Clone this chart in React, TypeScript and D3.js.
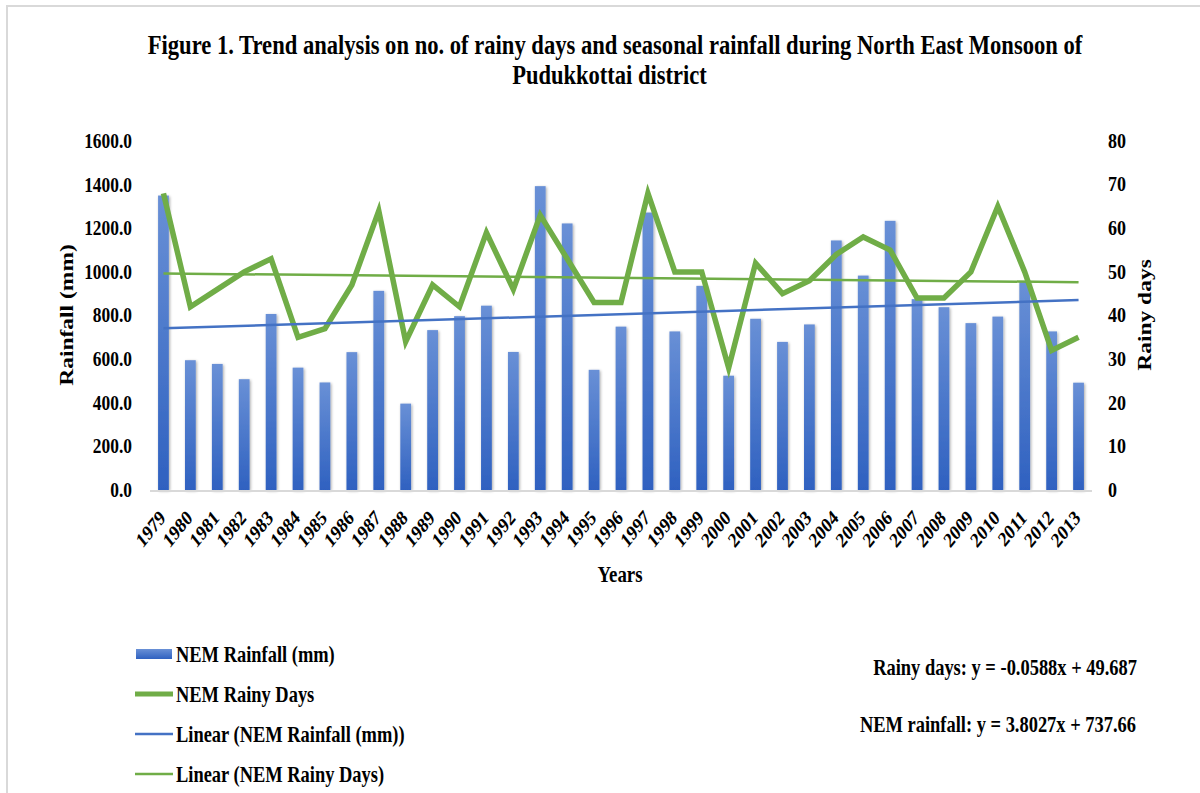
import React from 'react';
import * as d3 from 'd3';

const years = ['1979','1980','1981','1982','1983','1984','1985','1986','1987','1988','1989','1990','1991','1992','1993','1994','1995','1996','1997','1998','1999','2000','2001','2002','2003','2004','2005','2006','2007','2008','2009','2010','2011','2012','2013'];
const rainfall = [1350,595,578,508,807,561,493,632,913,396,733,797,845,633,1393,1222,551,749,1272,727,936,524,785,679,759,1144,983,1234,875,838,765,795,955,727,492];
const rainyDays = [68,42,46,50,53,35,37,47,64,34,47,42,59,46,63,53,43,43,68,50,50,28,52,45,48,54,58,55,44,44,50,65,50,32,35];
const leftTicks = [0,200,400,600,800,1000,1200,1400,1600];
const rightTicks = [0,10,20,30,40,50,60,70,80];
const rainfallTrendCoef = [3.8027, 737.66];
const rainyTrendCoef = [-0.0588, 49.687];
const legendLabels = ['NEM Rainfall (mm)','NEM Rainy Days','Linear (NEM Rainfall (mm))','Linear (NEM Rainy Days)'];
const titleLines = ['Figure 1. Trend analysis on no. of rainy days and seasonal rainfall during North East Monsoon of','Pudukkottai district'];
const equationLabels = ['Rainy days: y = -0.0588x + 49.687','NEM rainfall: y = 3.8027x + 737.66'];

const FONT = '"Liberation Serif", "Times New Roman", serif';
const BLUE = '#4472C4';
const GREEN = '#70AD47';

function T({ x, y, sx = 0.82, rotate = 0, size = 22, anchor = 'start', baseline, children }: any) {
  return (
    <text
      transform={`translate(${x},${y}) scale(${sx},1) rotate(${rotate})`}
      fontFamily={FONT}
      fontWeight="bold"
      fontSize={size}
      textAnchor={anchor}
      dominantBaseline={baseline}
      fill="#000"
    >
      {children}
    </text>
  );
}

export default function App() {
  const W = 1200, H = 793;
  const left = 150, right = 1092, top = 141, bottom = 490;

  const x = d3.scaleBand<string>().domain(years).range([left, right]).paddingInner(0.6).paddingOuter(0.3);
  const cx = (y: string) => (x(y) as number) + x.bandwidth() / 2;
  const yL = d3.scaleLinear().domain([0, 1600]).range([bottom, top]);
  const yR = d3.scaleLinear().domain([0, 80]).range([bottom, top]);

  const daysLine = d3.line<number>().x((_, i) => cx(years[i])).y((d) => yR(d));
  const ends = [0, years.length - 1];
  const rainTrend = d3.line<number>().x((i) => cx(years[i])).y((i) => yL(rainfallTrendCoef[0] * (i + 1) + rainfallTrendCoef[1]));
  const daysTrend = d3.line<number>().x((i) => cx(years[i])).y((i) => yR(rainyTrendCoef[0] * (i + 1) + rainyTrendCoef[1]));

  const legendY = [654, 694, 734, 774];

  return (
    <svg width={W} height={H} style={{ position: 'fixed', left: 0, top: 0, background: '#fff' }}>
      <defs>
        <linearGradient id="barGrad" x1="0" y1="0" x2="0" y2="1">
          <stop offset="0" stopColor="#6990d6" />
          <stop offset="1" stopColor="#2f61c0" />
        </linearGradient>
        <filter id="shadow" x="-50%" y="-10%" width="200%" height="120%">
          <feGaussianBlur in="SourceAlpha" stdDeviation="1.5" />
          <feOffset dx="1" dy="1" result="b" />
          <feComponentTransfer><feFuncA type="linear" slope="0.35" /></feComponentTransfer>
          <feMerge><feMergeNode /><feMergeNode in="SourceGraphic" /></feMerge>
        </filter>
      </defs>
      <rect x={7} y={6} width={1300} height={900} fill="none" stroke="#d9d9d9" strokeWidth={2} />

      <T x={615} y={54} sx={0.853} size={26.5} anchor="middle">{titleLines[0]}</T>
      <T x={609.5} y={84} sx={0.85} size={26.5} anchor="middle">{titleLines[1]}</T>

      {/* bars */}
      <g filter="url(#shadow)">
        {rainfall.map((v, i) => (
          <rect key={years[i]} x={x(years[i])} y={yL(v)} width={x.bandwidth()} height={bottom - yL(v)} fill="url(#barGrad)" />
        ))}
      </g>
      <line x1={left} x2={right} y1={bottom + 1} y2={bottom + 1} stroke="#d9d9d9" strokeWidth={2} />

      <path d={daysLine(rainyDays) || ''} fill="none" stroke={GREEN} strokeWidth={5.5} strokeLinejoin="miter" strokeMiterlimit={4} />
      <path d={rainTrend(ends) || ''} fill="none" stroke={BLUE} strokeWidth={2.5} />
      <path d={daysTrend(ends) || ''} fill="none" stroke={GREEN} strokeWidth={2.5} />

      {leftTicks.map((t) => (
        <T key={'l' + t} x={132} y={yL(t)} sx={0.87} size={20} anchor="end" baseline="central">{d3.format('.1f')(t)}</T>
      ))}
      {rightTicks.map((t) => (
        <T key={'r' + t} x={1108} y={yR(t)} sx={0.9} size={20} anchor="start" baseline="central">{String(t)}</T>
      ))}
      <T x={67} y={315} rotate={-90} size={23.5} anchor="middle" baseline="central">Rainfall (mm)</T>
      <T x={1145} y={315} rotate={-90} size={23.5} anchor="middle" baseline="central">Rainy days</T>

      {years.map((yr) => (
        <T key={'x' + yr} x={cx(yr) + 3} y={519} sx={0.8} rotate={-45} size={21} anchor="end">{yr}</T>
      ))}
      <T x={620} y={582} size={23} anchor="middle">Years</T>

      {/* legend */}
      <rect x={136} y={legendY[0] - 5} width={36} height={10} fill="url(#barGrad)" />
      <line x1={135} x2={173} y1={legendY[1]} y2={legendY[1]} stroke={GREEN} strokeWidth={5} />
      <line x1={135} x2={173} y1={legendY[2]} y2={legendY[2]} stroke={BLUE} strokeWidth={2.5} />
      <line x1={135} x2={173} y1={legendY[3]} y2={legendY[3]} stroke={GREEN} strokeWidth={2.5} />
      {legendLabels.map((l, i) => (
        <T key={l} x={176} y={legendY[i] + 8} size={22.5}>{l}</T>
      ))}

      <T x={1137} y={675} size={22.5} anchor="end">{equationLabels[0]}</T>
      <T x={1136} y={732} size={22.5} anchor="end">{equationLabels[1]}</T>
    </svg>
  );
}
